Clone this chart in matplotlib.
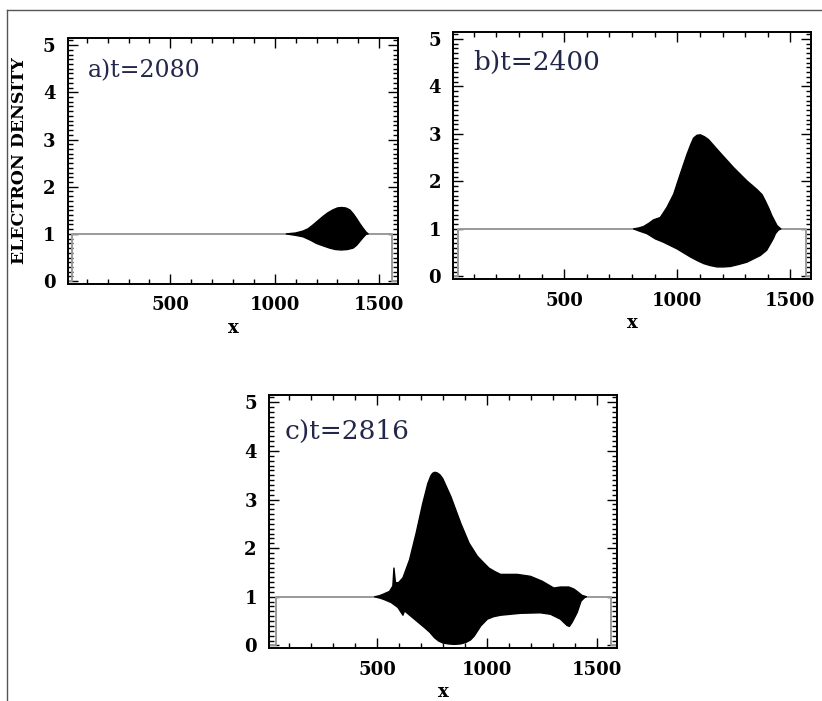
import numpy as np
import matplotlib
matplotlib.use("Agg")
import matplotlib.pyplot as plt
from matplotlib.lines import Line2D
from matplotlib.ticker import MultipleLocator, FixedLocator

# background density profile: 0 outside the plasma slab, 1 inside
slab_edges = {"a": (28, 1559), "b": (32, 1569), "c": (40, 1563)}

# envelope of the oscillating density (upper / lower)
a_x_up = [1055, 1100, 1135, 1160, 1183, 1207, 1231, 1255, 1279, 1300, 1319,
          1340, 1359, 1375, 1391, 1407, 1423, 1437, 1447]
a_y_up = [1.00, 1.02, 1.06, 1.11, 1.19, 1.28, 1.37, 1.45, 1.51, 1.55, 1.56,
          1.55, 1.51, 1.43, 1.33, 1.22, 1.12, 1.04, 1.00]
a_x_lo = [1055, 1100, 1135, 1170, 1199, 1230, 1263, 1290, 1319, 1348, 1375,
          1392, 1407, 1424, 1439]
a_y_lo = [1.00, 0.97, 0.94, 0.87, 0.80, 0.75, 0.70, 0.67, 0.66, 0.67, 0.70,
          0.76, 0.84, 0.93, 1.00]

b_x_up = [807, 830, 851, 875, 895, 925, 954, 984, 1013, 1043, 1060, 1072, 1087,
          1102, 1120, 1138, 1190, 1249, 1308, 1352, 1375, 1389, 1405, 1418, 1441,
          1458]
b_y_up = [1.00, 1.02, 1.05, 1.12, 1.19, 1.24, 1.45, 1.73, 2.15, 2.57, 2.78, 2.91,
          2.97, 2.98, 2.94, 2.88, 2.60, 2.29, 2.01, 1.83, 1.72, 1.59, 1.43, 1.28,
          1.07, 1.00]
b_x_lo = [807, 835, 866, 903, 939, 999, 1058, 1090, 1117, 1145, 1176, 1205, 1235,
          1270, 1308, 1367, 1395, 1412, 1425, 1434, 1446, 1456]
b_y_lo = [1.00, 0.95, 0.90, 0.79, 0.72, 0.58, 0.41, 0.33, 0.27, 0.23, 0.20, 0.20,
          0.21, 0.25, 0.30, 0.44, 0.55, 0.69, 0.80, 0.90, 0.97, 1.00]

c_x_up = [489, 510, 527, 557, 572, 577, 584, 598, 618, 648, 678, 708, 731, 745,
          753, 763, 773, 786, 799, 836, 881, 919, 957, 985, 1009, 1035, 1062, 1138,
          1198, 1251, 1304, 1320, 1334, 1372, 1395, 1410, 1432, 1452]
c_y_up = [1.00, 1.02, 1.05, 1.11, 1.22, 1.59, 1.29, 1.29, 1.39, 1.76, 2.31, 2.92,
          3.33, 3.49, 3.54, 3.56, 3.55, 3.51, 3.43, 3.06, 2.51, 2.10, 1.83, 1.70,
          1.59, 1.52, 1.46, 1.46, 1.42, 1.32, 1.18, 1.19, 1.20, 1.20, 1.16, 1.11,
          1.03, 1.00]
c_x_lo = [489, 515, 534, 565, 595, 618, 625, 670, 715, 740, 761, 780, 799, 825,
          851, 880, 904, 925, 942, 972, 1002, 1030, 1062, 1153, 1243, 1289, 1334,
          1364, 1375, 1387, 1410, 1428, 1448]
c_y_lo = [1.00, 0.97, 0.94, 0.88, 0.78, 0.62, 0.71, 0.54, 0.37, 0.27, 0.16, 0.09,
          0.05, 0.03, 0.02, 0.03, 0.06, 0.11, 0.19, 0.40, 0.54, 0.59, 0.62, 0.66,
          0.67, 0.64, 0.54, 0.41, 0.39, 0.47, 0.67, 0.91, 1.00]

titles = {"a": "a)t=2080", "b": "b)t=2400", "c": "c)t=2816"}
x_major = [500, 1000, 1500]
y_major = [0, 1, 2, 3, 4, 5]

panels = {
    "a": (a_x_up, a_y_up, a_x_lo, a_y_lo),
    "b": (b_x_up, b_y_up, b_x_lo, b_y_lo),
    "c": (c_x_up, c_y_up, c_x_lo, c_y_lo),
}

# axes rectangles in figure fraction
rects = {
    "a": [0.0827, 0.5949, 0.4015, 0.3509],
    "b": [0.5515, 0.6016, 0.4348, 0.3532],
    "c": [0.3276, 0.0752, 0.4226, 0.3613],
}
title_pos = {"a": (0.06, 0.866, 17), "b": (0.055, 0.874, 19), "c": (0.045, 0.855, 19)}

serif_bold = dict(family="DejaVu Serif", weight="bold")

fig = plt.figure(figsize=(8.22, 7.01), dpi=100)
fig.patch.set_facecolor("white")

# thin frame around the figure (top and left edges)
fig.add_artist(Line2D([0.0085, 1.0], [0.986, 0.986], color="#555555", lw=1.0))
fig.add_artist(Line2D([0.0085, 0.0085], [0.0, 0.986], color="#555555", lw=1.0))

xmin, xmax = 10, 1590
for key in ["a", "b", "c"]:
    ax = fig.add_axes(rects[key])
    xu, yu, xl, yl = panels[key]
    x0, x1 = slab_edges[key]

    ax.plot([xmin, x0, x0, x1, x1, xmax], [0, 0, 1, 1, 0, 0],
            color="#9a9a9a", lw=1.4, zorder=2)
    ax.fill(np.r_[xu, xl[::-1]], np.r_[yu, yl[::-1]],
            color="black", lw=1.0, joinstyle="round", zorder=3)

    ax.set_xlim(xmin, xmax)
    ax.set_ylim(-0.06, 5.15)
    ax.xaxis.set_major_locator(FixedLocator(x_major))
    ax.xaxis.set_minor_locator(MultipleLocator(100))
    ax.yaxis.set_major_locator(FixedLocator(y_major))
    ax.yaxis.set_minor_locator(MultipleLocator(0.1))
    ax.tick_params(which="both", direction="in", top=True, right=True,
                   width=1.0, color="black")
    ax.tick_params(which="major", length=7, pad=9)
    ax.tick_params(which="minor", length=3.5)
    for lab in ax.get_xticklabels() + ax.get_yticklabels():
        lab.set_fontfamily("DejaVu Serif")
        lab.set_fontweight("bold")
        lab.set_fontsize(13)
    for sp in ax.spines.values():
        sp.set_linewidth(1.4)

    ax.set_xlabel("x", fontsize=13, labelpad=3, **serif_bold)
    tx, ty, fs = title_pos[key]
    ax.text(tx, ty, titles[key], transform=ax.transAxes, fontsize=fs,
            family="DejaVu Serif", color="#23284a", va="center", ha="left")
    if key == "a":
        ax.set_ylabel("ELECTRON DENSITY", fontsize=12.5, labelpad=11, **serif_bold)

fig.savefig("out.png", dpi=100, facecolor="white")
